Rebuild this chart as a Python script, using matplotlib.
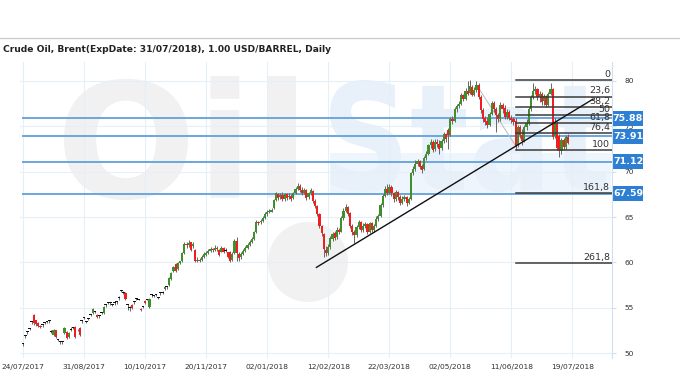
import numpy as np
import matplotlib
matplotlib.use('Agg')
import matplotlib.pyplot as plt
from matplotlib.textpath import TextPath
from matplotlib.patches import PathPatch, Rectangle, Ellipse
from matplotlib.font_manager import FontProperties
from matplotlib.transforms import Affine2D, blended_transform_factory
from matplotlib.lines import Line2D

# daily candles, Brent (exp 31/07/2018), one row = 10 trading days
opens = [51.0, 51.9, 52.3, 52.7, 53.4, 54.2, 53.6, 53.3, 53.0, 53.1,
         53.3, 53.4, 53.5, 52.3, 52.0, 52.5, 51.4, 51.2, 51.2, 52.2,
         52.3, 51.8, 52.6, 52.8, 52.9, 52.5, 52.8, 53.5, 53.9, 53.4,
         53.8, 54.2, 54.4, 54.5, 54.2, 54.1, 54.4, 54.4, 55.3, 55.5,
         55.5, 55.3, 55.5, 55.6, 56.1, 56.9, 56.6, 56.6, 55.3, 55.0,
         55.3, 55.6, 56.0, 55.9, 54.9, 55.1, 55.7, 55.9, 55.1, 56.4,
         56.3, 56.4, 56.1, 56.6, 56.6, 57.1, 57.3, 57.5, 58.2, 59.0,
         59.8, 59.3, 59.9, 60.1, 61.0, 62.0, 61.9, 62.2, 61.8, 61.4,
         60.2, 60.3, 60.3, 60.6, 60.8, 61.0, 61.3, 61.5, 61.4, 61.6,
         61.4, 61.2, 61.6, 61.3, 61.1, 61.2, 60.3, 61.0, 62.4, 60.9,
         60.6, 60.9, 61.3, 61.6, 61.9, 62.3, 62.6, 63.3, 64.4, 64.4,
         64.6, 64.9, 65.3, 65.5, 65.6, 66.0, 66.9, 67.5, 67.2, 67.4,
         67.0, 67.5, 67.2, 67.3, 67.1, 67.6, 68.1, 68.4, 68.0, 67.7,
         68.0, 67.2, 67.6, 67.9, 66.8, 66.2, 65.3, 64.0, 63.1, 61.4,
         61.0, 61.7, 62.6, 63.2, 62.8, 63.6, 63.4, 64.9, 65.7, 66.1,
         65.4, 64.0, 63.3, 63.0, 63.9, 64.5, 63.6, 64.0, 64.2, 63.3,
         64.3, 63.6, 64.0, 64.8, 65.1, 66.3, 67.3, 68.1, 67.6, 68.3,
         67.6, 67.0, 67.8, 67.2, 66.5, 67.0, 67.2, 66.6, 67.0, 69.8,
         70.3, 70.8, 71.2, 70.6, 70.3, 71.5, 72.0, 72.9, 73.3, 72.5,
         73.3, 73.1, 72.6, 73.4, 74.1, 74.6, 74.0, 75.8, 75.6, 76.9,
         77.2, 77.5, 78.4, 78.0, 78.9, 78.7, 79.3, 78.5, 79.0, 79.6,
         78.2, 76.8, 75.9, 75.6, 75.2, 76.4, 77.6, 76.9, 76.3, 75.8,
         77.4, 77.0, 76.0, 76.6, 75.9, 75.8, 75.6, 72.9, 74.9, 74.0,
         73.4, 74.9, 75.4, 76.9, 78.2, 78.9, 79.1, 78.2, 78.6, 77.8,
         78.3, 77.4, 78.6, 79.1, 73.9, 75.4, 73.9, 72.3, 73.5, 72.7, 73.8]
closes = [51.0, 51.9, 52.3, 52.7, 53.4, 53.3, 53.2, 53.0, 52.9, 53.1,
          53.3, 53.4, 53.5, 52.3, 52.6, 51.8, 51.4, 51.2, 51.2, 52.8,
          51.7, 52.2, 52.6, 52.8, 51.8, 52.5, 52.0, 53.5, 53.9, 53.4,
          53.8, 54.2, 54.9, 54.5, 54.0, 54.1, 54.4, 55.1, 55.3, 55.5,
          55.5, 55.3, 55.5, 55.6, 56.1, 56.9, 56.6, 56.0, 55.3, 55.0,
          55.0, 55.6, 56.0, 55.9, 54.7, 55.1, 55.5, 55.9, 56.0, 56.4,
          56.3, 56.4, 56.1, 56.6, 56.6, 57.3, 57.3, 58.3, 58.8, 59.5,
          59.1, 59.9, 60.1, 61.0, 62.0, 61.9, 62.1, 61.4, 62.0, 60.1,
          60.3, 60.2, 60.6, 60.9, 61.0, 61.3, 61.5, 61.4, 61.6, 61.5,
          60.8, 61.6, 61.2, 61.3, 60.6, 60.1, 60.9, 62.4, 61.0, 60.5,
          60.9, 61.3, 61.6, 61.9, 62.3, 62.6, 63.3, 64.5, 64.3, 64.6,
          64.9, 65.3, 65.6, 65.7, 65.8, 66.9, 67.6, 67.1, 67.4, 67.0,
          67.5, 67.1, 67.3, 67.0, 67.6, 68.1, 68.4, 68.0, 67.6, 68.0,
          67.1, 67.6, 68.0, 66.8, 66.2, 65.3, 64.0, 63.2, 61.5, 61.0,
          61.7, 62.7, 63.1, 62.7, 63.6, 63.3, 64.9, 65.7, 66.1, 65.3,
          64.0, 63.3, 63.0, 63.9, 64.5, 63.6, 64.0, 64.2, 63.3, 64.3,
          63.6, 64.0, 64.8, 65.1, 66.3, 67.3, 68.1, 67.6, 68.3, 67.6,
          67.0, 67.8, 67.2, 66.5, 67.0, 67.2, 66.5, 67.0, 69.8, 70.3,
          70.8, 71.2, 70.5, 70.2, 71.5, 72.0, 72.9, 73.3, 72.4, 73.3,
          73.0, 72.5, 73.4, 74.2, 73.6, 74.0, 75.8, 75.6, 76.9, 77.2,
          77.5, 78.4, 78.0, 78.9, 78.6, 79.4, 78.5, 79.0, 79.6, 78.2,
          76.8, 75.8, 75.5, 75.2, 76.4, 77.6, 76.9, 76.3, 75.8, 77.4,
          76.9, 76.0, 76.6, 75.9, 75.7, 75.5, 72.8, 74.9, 74.0, 73.4,
          74.9, 75.4, 76.9, 78.2, 78.9, 79.1, 78.2, 78.6, 77.7, 78.3,
          77.4, 78.6, 79.1, 73.8, 75.4, 72.6, 72.3, 73.5, 72.7, 73.8, 73.2]
highs = [51.1, 52.0, 52.4, 52.8, 53.5, 54.3, 53.7, 53.4, 53.1, 53.2,
         53.4, 53.5, 53.6, 52.5, 52.7, 52.6, 51.6, 51.3, 51.3, 52.9,
         52.4, 52.3, 52.9, 52.9, 53.0, 52.7, 52.9, 53.6, 54.0, 53.5,
         53.9, 54.3, 55.0, 54.6, 54.3, 54.2, 54.5, 55.2, 55.4, 55.6,
         55.6, 55.4, 55.6, 55.7, 56.3, 57.0, 56.8, 56.7, 55.4, 55.2,
         55.4, 55.7, 56.1, 56.0, 55.0, 55.2, 55.8, 56.0, 56.1, 56.5,
         56.4, 56.5, 56.2, 56.7, 56.8, 57.4, 57.4, 58.4, 58.9, 59.6,
         59.9, 60.0, 60.2, 61.1, 62.3, 62.2, 62.5, 62.3, 62.2, 61.5,
         60.6, 60.5, 60.8, 61.1, 61.3, 61.5, 61.7, 61.6, 61.9, 61.8,
         61.5, 61.8, 61.7, 61.6, 61.2, 61.3, 61.1, 62.6, 62.8, 61.1,
         61.1, 61.5, 61.8, 62.1, 62.5, 62.8, 63.5, 64.7, 64.6, 64.8,
         65.1, 65.5, 65.8, 65.9, 66.0, 67.0, 67.8, 67.7, 67.6, 67.8,
         67.7, 67.6, 67.6, 67.5, 67.8, 68.3, 68.7, 68.6, 68.3, 68.2,
         68.1, 67.8, 68.2, 68.0, 67.0, 66.3, 65.4, 64.1, 63.2, 61.8,
         62.0, 62.9, 63.4, 63.5, 63.9, 63.8, 65.1, 66.0, 66.4, 66.2,
         65.5, 64.2, 63.6, 64.1, 64.7, 64.6, 64.3, 64.5, 64.3, 64.5,
         64.5, 64.2, 65.1, 65.3, 66.5, 67.5, 68.4, 68.6, 68.6, 68.5,
         67.8, 68.0, 67.9, 67.4, 67.3, 67.4, 67.3, 67.2, 70.0, 70.6,
         71.3, 71.4, 71.3, 70.8, 71.7, 72.3, 73.1, 73.6, 73.5, 73.6,
         73.6, 73.5, 73.6, 74.4, 74.3, 74.8, 76.0, 76.1, 77.1, 77.5,
         77.8, 78.7, 78.6, 79.2, 80.0, 80.1, 79.5, 79.3, 80.0, 79.8,
         78.4, 77.0, 76.1, 76.0, 76.6, 77.8, 77.8, 77.1, 76.5, 77.7,
         77.6, 77.3, 76.9, 76.8, 76.2, 76.0, 75.9, 75.2, 75.1, 74.7,
         75.1, 75.8, 77.1, 78.4, 79.8, 79.4, 79.2, 78.9, 78.8, 78.6,
         78.5, 78.8, 79.8, 79.2, 75.9, 75.6, 74.1, 73.7, 73.7, 74.0, 74.1]
lows = [50.8, 51.7, 52.1, 52.5, 53.2, 53.1, 53.0, 52.9, 52.8, 52.9,
        53.2, 53.3, 53.3, 52.2, 51.9, 51.7, 51.3, 51.0, 51.0, 52.1,
        51.6, 51.7, 52.4, 52.7, 51.7, 52.4, 51.9, 53.3, 53.8, 53.3,
        53.6, 54.1, 54.3, 54.4, 53.9, 53.9, 54.3, 54.3, 55.1, 55.4,
        55.3, 55.2, 55.3, 55.4, 55.9, 56.7, 56.5, 55.9, 54.8, 54.6,
        54.9, 55.4, 55.9, 55.8, 54.6, 55.0, 55.4, 55.8, 55.0, 56.2,
        56.2, 56.3, 56.0, 56.4, 56.5, 57.0, 57.1, 57.4, 58.1, 58.9,
        58.9, 59.2, 59.8, 60.0, 60.9, 61.6, 61.7, 61.3, 61.6, 60.0,
        60.0, 60.0, 60.2, 60.5, 60.7, 60.9, 61.2, 61.1, 61.3, 61.3,
        60.7, 61.1, 61.0, 61.1, 60.5, 60.0, 60.2, 60.9, 60.1, 60.2,
        60.4, 60.8, 61.2, 61.5, 61.8, 62.1, 62.5, 63.2, 64.1, 64.2,
        64.5, 64.8, 65.1, 65.4, 65.5, 65.9, 66.8, 66.9, 67.0, 66.8,
        66.8, 66.9, 67.0, 66.8, 67.0, 67.5, 68.0, 67.8, 67.4, 67.5,
        66.9, 67.0, 67.4, 66.6, 66.0, 65.1, 63.8, 62.9, 60.6, 60.7,
        60.8, 61.5, 62.4, 62.5, 62.6, 63.1, 63.3, 64.7, 65.5, 65.1,
        63.8, 63.0, 62.1, 62.8, 63.7, 63.4, 63.4, 63.8, 63.1, 63.2,
        63.4, 63.4, 63.9, 64.6, 65.0, 66.1, 67.2, 67.4, 67.5, 67.3,
        66.7, 66.8, 66.9, 66.3, 66.4, 66.8, 66.2, 66.4, 66.9, 69.6,
        70.1, 70.6, 70.3, 69.9, 70.2, 71.3, 71.8, 72.6, 72.2, 72.3,
        72.7, 71.9, 72.4, 73.2, 73.3, 72.5, 73.9, 75.3, 75.5, 76.6,
        77.0, 77.3, 77.8, 77.9, 78.4, 78.6, 78.3, 78.3, 78.8, 78.0,
        76.5, 75.5, 75.2, 74.8, 75.0, 76.2, 76.6, 74.4, 75.5, 75.6,
        76.5, 75.8, 75.8, 75.7, 75.4, 75.2, 72.4, 72.7, 73.7, 72.9,
        73.3, 74.6, 75.2, 76.7, 78.0, 78.6, 77.9, 77.7, 77.4, 77.3,
        77.1, 77.2, 78.4, 73.6, 73.7, 72.4, 71.65, 72.0, 72.4, 72.5, 73.0]

date_labels = ['24/07/2017', '31/08/2017', '10/10/2017', '20/11/2017',
               '02/01/2018', '12/02/2018', '22/03/2018', '02/05/2018',
               '11/06/2018', '19/07/2018']
date_step = 28  # trading days between date labels

levels = [75.88, 73.91, 71.12, 67.59]

fib_high = 80.10
fib_low = 72.40
fib_ratios = [0, 23.6, 38.2, 50, 61.8, 76.4, 100, 161.8, 261.8]
fib_start = 226

trend_x = [134.6, 261.5]
trend_y = [59.45, 78.0]
swing_x = [209.6, 226.6]
swing_y = [79.0, 72.6]

title = 'Crude Oil, Brent(ExpDate: 31/07/2018), 1.00 USD/BARREL, Daily'

W, H = 680, 380
fig = plt.figure(figsize=(W / 100.0, H / 100.0), dpi=100)
ax = fig.add_axes([20.0 / W, 1 - 358.0 / H, 592.0 / W, 296.0 / H])
ax.set_facecolor('none')


# faded site logo behind the chart, boxes in pixels from the top left
def stamp(text, box, color):
    tp = TextPath((0, 0), text, size=10,
                  prop=FontProperties(family='DejaVu Sans', weight='bold'))
    ext = tp.get_extents()
    x0, y0, x1, y1 = box
    tr = (Affine2D().translate(-ext.x0, -ext.y0)
          .scale((x1 - x0) / ext.width / W, (y1 - y0) / ext.height / H)
          .translate(x0 / W, 1 - y1 / H)) + fig.transFigure
    p = PathPatch(tp, transform=tr, facecolor=color, lw=0, zorder=-2)
    fig.patches.append(p)

band = Rectangle((330.0 / W, 1 - 193.0 / H), 281.0 / W, 40.0 / H,
                 transform=fig.transFigure, facecolor='#eef5fc', lw=0,
                 zorder=-3)
fig.patches.append(band)
stamp('Oil', (64, 76, 296, 200), '#f1f1f1')
stamp('Stat', (330, 80, 608, 192), '#e8f1fa')
drop = Ellipse((308.0 / W, 1 - 262.0 / H), 80.0 / W, 80.0 / H,
               transform=fig.transFigure, facecolor='#f1f1f1', lw=0, zorder=-2)
fig.patches.append(drop)

# separator and title
fig.add_artist(Line2D([0, 1], [1 - 38.0 / H] * 2, transform=fig.transFigure,
                      color='#cccccc', lw=1))
fig.text(3.0 / W, 1 - 50.0 / H, title, ha='left', va='center',
         fontsize=6.6, fontweight='bold', color='#222222')

o = np.array(opens)
c = np.array(closes)
hi = np.array(highs)
lo = np.array(lows)
x = np.arange(len(c))

colors = np.where(c > o, '#3f8f2c', np.where(c < o, '#f01e1e', '#111111'))
widths = np.where(c == o, 1.3, 1.0)
ax.vlines(x, lo, hi, color='#666666', lw=0.7, zorder=3)
ax.bar(x, np.maximum(np.abs(c - o), 0.1), bottom=np.minimum(o, c),
       width=widths, color=colors, lw=0, zorder=4)

xmax = 270.2
# support / resistance levels with blue tags
tag = blended_transform_factory(ax.transAxes, ax.transData)
for v in levels:
    ax.plot([0, xmax], [v, v], color='#6aa6de', lw=1.4, zorder=2)
    ax.add_patch(Rectangle((1.0017, v - 0.82), 0.0507, 1.64, transform=tag,
                           facecolor='#2d7fd3', lw=0, clip_on=False))
    ax.text(1.0271, v, '%.2f' % v, transform=tag, ha='center', va='center',
            fontsize=6.8, fontweight='bold', color='white')

# fibonacci retracement
rng = fib_high - fib_low
for r in fib_ratios:
    v = fib_high - rng * r / 100.0
    ax.plot([fib_start, xmax], [v, v], color='#3a3a3a', lw=1.1, zorder=5)
    lab = ('%g' % r).replace('.', ',')
    ax.text(269.3, v + 0.12, lab, ha='right', va='bottom', fontsize=6.8,
            color='#333333', zorder=6)

ax.plot(swing_x, swing_y, color='#bbbbbb', lw=0.7, zorder=2)
ax.plot(trend_x, trend_y, color='#111111', lw=1.0, zorder=6)

ax.set_xlim(-1.4, xmax)
ax.set_ylim(49.46, 82.09)
ax.set_xticks(np.arange(len(date_labels)) * date_step)
ax.set_xticklabels(date_labels)
ax.set_yticks(np.arange(50, 81, 5))
ax.yaxis.tick_right()
ax.tick_params(axis='x', length=0, pad=4, labelsize=5.4, labelcolor='#333333')
ax.tick_params(axis='y', length=3, color='#cfe0f0', pad=6, labelsize=5.4,
               labelcolor='#333333')
ax.set_axisbelow(True)
ax.grid(color='#e6eff8', lw=0.8)
for s in ['top', 'left', 'bottom']:
    ax.spines[s].set_visible(False)
ax.spines['right'].set_color('#cfe0f0')

fig.savefig('out.png', dpi=100)
